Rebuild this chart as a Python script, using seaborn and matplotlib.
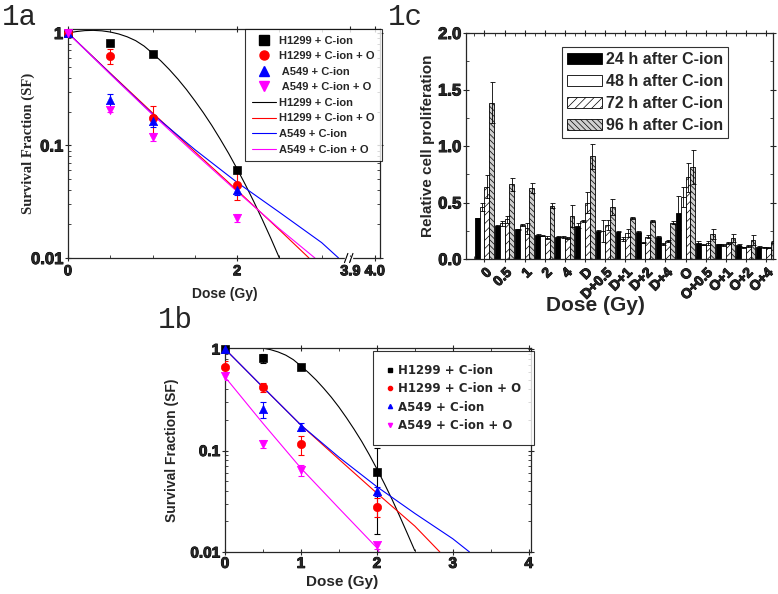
import numpy as np
import pandas as pd
import seaborn as sns
import matplotlib.pyplot as plt
import matplotlib.patheffects as pe
from matplotlib.lines import Line2D
from matplotlib.patches import Patch
from matplotlib.ticker import FixedLocator, NullFormatter, LogLocator

# ---------------- data ----------------
doses = [0, 0.5, 1, 2]
labels = ["H1299 + C-ion", "H1299 + C-ion + O", "A549 + C-ion", "A549 + C-ion + O"]
colors = ["black", "red", "blue", "magenta"]
markers = ["s", "o", "^", "v"]

# panel 1a points
sf_a_h1299 = [1.0, 0.81, 0.65, 0.061]
sf_a_h1299_o = [1.0, 0.625, 0.175, 0.045]
sf_a_a549 = [1.0, 0.254, 0.165, 0.040]
sf_a_a549_o = [1.0, 0.207, 0.12, 0.0227]
err_a_h1299 = [0, 0.05, 0.03, 0.004]
err_a_h1299_o = [0, 0.1, 0.05, 0.012]
err_a_a549 = [0, 0.035, 0.02, 0.004]
err_a_a549_o = [0, 0.01, 0.01, 0.002]

# panel 1a fitted curves
fit_a_x_h1299 = [0, 0.1, 0.2, 0.3, 0.4, 0.5, 0.6, 0.7, 0.8, 0.9, 1.0, 1.1, 1.2, 1.3,
                 1.4, 1.5, 1.6, 1.7, 1.8, 1.9, 2.0, 2.1, 2.2, 2.3, 2.4, 2.5]
fit_a_y_h1299 = [1.0, 1.03, 1.05, 1.055, 1.045, 1.02, 0.98, 0.925, 0.855, 0.765, 0.66,
                 0.563, 0.472, 0.389, 0.315, 0.25, 0.196, 0.151, 0.114, 0.085, 0.062,
                 0.0445, 0.0314, 0.0218, 0.0149, 0.0100]
fit_a_x_h1299_o = [0, 0.5, 1.0, 1.5, 2.0, 2.5, 2.85]
fit_a_y_h1299_o = [1.0, 0.44, 0.195, 0.088, 0.040, 0.0178, 0.0100]
fit_a_x_a549 = [0, 0.5, 1.0, 1.5, 2.0, 2.5, 3.0, 3.2]
fit_a_y_a549 = [1.0, 0.435, 0.19, 0.092, 0.047, 0.0255, 0.0137, 0.0100]
fit_a_x_a549_o = [0, 0.5, 1.0, 1.5, 2.0, 2.5, 2.92]
fit_a_y_a549_o = [1.0, 0.43, 0.188, 0.085, 0.039, 0.0182, 0.0100]

# panel 1b points
sf_b_h1299 = [1.0, 0.81, 0.66, 0.061]
sf_b_h1299_o = [0.67, 0.42, 0.115, 0.028]
sf_b_a549 = [1.0, 0.254, 0.171, 0.0397]
sf_b_a549_o = [0.545, 0.117, 0.064, 0.0116]
err_b_h1299 = [0, 0.08, 0.03, 0.046]
err_b_h1299_o = [0.1, 0.04, 0.025, 0.006]
err_b_a549 = [0, 0.045, 0.015, 0.004]
err_b_a549_o = [0.05, 0.01, 0.008, 0.001]

# panel 1b fitted curves
fit_b_x_h1299 = [0, 0.1, 0.2, 0.3, 0.4, 0.5, 0.6, 0.7, 0.8, 0.9, 1.0, 1.1, 1.2, 1.3,
                 1.4, 1.5, 1.6, 1.7, 1.8, 1.9, 2.0, 2.1, 2.2, 2.3, 2.4, 2.5]
fit_b_y_h1299 = [1.0, 1.03, 1.05, 1.055, 1.045, 1.02, 0.985, 0.935, 0.87, 0.785, 0.68,
                 0.585, 0.495, 0.41, 0.335, 0.268, 0.21, 0.162, 0.123, 0.091, 0.066,
                 0.047, 0.033, 0.0226, 0.0153, 0.0103]
fit_b_x_h1299_o = [0, 0.5, 1.0, 1.5, 2.0, 2.5, 2.83]
fit_b_y_h1299_o = [1.0, 0.42, 0.178, 0.082, 0.038, 0.018, 0.0100]
fit_b_x_a549 = [0, 0.5, 1.0, 1.5, 2.0, 2.5, 3.0, 3.22]
fit_b_y_a549 = [1.0, 0.42, 0.178, 0.086, 0.044, 0.024, 0.0135, 0.0100]
fit_b_x_a549_o = [0, 0.5, 1.0, 1.5, 2.0, 2.03]
fit_b_y_a549_o = [0.53, 0.185, 0.067, 0.027, 0.011, 0.0100]

# panel 1c bars
doses_c = ["0", "0.5", "1", "2", "4", "D", "D+0.5", "D+1", "D+2", "D+4",
           "O", "O+0.5", "O+1", "O+2", "O+4"]
times_c = ["24 h after C-ion", "48 h after C-ion", "72 h after C-ion", "96 h after C-ion"]
prolif_24h = [0.36, 0.295, 0.263, 0.212, 0.198, 0.295, 0.248, 0.242, 0.236, 0.195,
              0.41, 0.145, 0.13, 0.124, 0.109]
prolif_48h = [0.457, 0.316, 0.30, 0.206, 0.195, 0.339, 0.248, 0.177, 0.145, 0.133,
              0.546, 0.127, 0.124, 0.103, 0.103]
prolif_72h = [0.64, 0.35, 0.27, 0.19, 0.183, 0.50, 0.30, 0.227, 0.198, 0.159,
              0.723, 0.142, 0.142, 0.118, 0.10]
prolif_96h = [1.383, 0.66, 0.625, 0.472, 0.38, 0.91, 0.463, 0.366, 0.336, 0.322,
              0.817, 0.218, 0.183, 0.168, 0.153]
err_24h = [0.005, 0.005, 0.005, 0.005, 0.005, 0.02, 0.005, 0.005, 0.01, 0.005,
           0.15, 0.01, 0.005, 0.005, 0.01]
err_48h = [0.035, 0.02, 0.01, 0.005, 0.005, 0.01, 0.1, 0.02, 0.005, 0.005,
           0.09, 0.005, 0.01, 0.005, 0.005]
err_72h = [0.1, 0.03, 0.045, 0.01, 0.01, 0.09, 0.045, 0.035, 0.01, 0.01,
           0.13, 0.02, 0.01, 0.01, 0.005]
err_96h = [0.18, 0.06, 0.045, 0.025, 0.095, 0.11, 0.07, 0.01, 0.005, 0.012,
           0.15, 0.045, 0.035, 0.045, 0.01]

# ---------------- style ----------------
sns.set_style("ticks")
plt.rcParams['font.family'] = ['Liberation Sans', 'DejaVu Sans']
plt.rcParams['font.weight'] = 'bold'
plt.rcParams['axes.linewidth'] = 0.9
plt.rcParams['hatch.linewidth'] = 0.5

W, H = 778, 594
fig = plt.figure(figsize=(W / 100, H / 100), dpi=100)
heavy = [pe.withStroke(linewidth=0.7, foreground='black')]


def px_axes(l, t, r, b):
    return fig.add_axes([l / W, 1 - b / H, (r - l) / W, (b - t) / H])


ax_a = px_axes(68, 29, 380, 258)
ax_b = px_axes(225, 348, 531, 552)
ax_c = px_axes(466, 33, 773, 259)


def draw_survival(ax, pts, errs, fits, msize):
    for (fx, fy), c in zip(fits, colors):
        sns.lineplot(x=fx, y=fy, color=c, lw=0.8, ax=ax, sort=False,
                     estimator=None, legend=False)
    for vals, err, c, m in zip(pts, errs, colors, markers):
        ax.errorbar(doses, vals, yerr=err, fmt='none', ecolor=c, elinewidth=0.8,
                    capsize=2, capthick=0.8, zorder=3)
        sns.scatterplot(x=doses, y=vals, marker=m, color=c, edgecolor=c, s=msize,
                        ax=ax, zorder=4, legend=False, clip_on=False)
    ax.set_yscale('log')
    ax.yaxis.set_major_locator(FixedLocator([0.01, 0.1, 1]))
    ax.set_yticklabels(["0.01", "0.1", "1"])
    ax.yaxis.set_minor_locator(LogLocator(base=10, subs=np.arange(2, 10)))
    ax.yaxis.set_minor_formatter(NullFormatter())
    ax.tick_params(which='both', top=True, right=True)
    ax.tick_params(which='major', direction='inout', length=5, width=0.8)
    ax.tick_params(which='minor', direction='in', length=2.5, width=0.6)


# ---------------- panel 1a ----------------
pts_a = [sf_a_h1299, sf_a_h1299_o, sf_a_a549, sf_a_a549_o]
errs_a = [err_a_h1299, err_a_h1299_o, err_a_a549, err_a_a549_o]
fits_a = [(fit_a_x_h1299, fit_a_y_h1299), (fit_a_x_h1299_o, fit_a_y_h1299_o),
          (fit_a_x_a549, fit_a_y_a549), (fit_a_x_a549_o, fit_a_y_a549_o)]
draw_survival(ax_a, pts_a, errs_a, fits_a, 36)
ax_a.set_xlim(0, 3.69)
ax_a.set_ylim(0.01, 1.085)
# broken axis: 3.9 and 4.0 sit after the break
ax_a.xaxis.set_major_locator(FixedLocator([0, 2, 3.34, 3.63]))
ax_a.set_xticklabels(["0", "2", "3.9", "4.0"])
ax_a.xaxis.set_minor_locator(FixedLocator([0.5, 1, 1.5, 2.5, 3.0]))
ax_a.tick_params(axis='x', which='major', labelsize=10.5, pad=2)
ax_a.tick_params(axis='y', which='major', labelsize=12, pad=1)
tr = ax_a.get_xaxis_transform()
ax_a.plot([3.29, 3.35], [0.0, 0.0], color='white', lw=2.5, transform=tr,
          clip_on=False, zorder=5)
for x0 in [3.27, 3.33]:
    ax_a.plot([x0, x0 + 0.04], [-0.02, 0.02], color='black', lw=0.8,
              transform=tr, clip_on=False, zorder=6)
ax_a.set_xlabel("Dose (Gy)", fontsize=10, fontweight='bold')
ax_a.xaxis.set_label_coords((225 - 68) / 312, -0.125)
ax_a.set_ylabel("Survival Fraction (SF)", fontsize=10.5, fontweight='bold',
                family=['Liberation Serif'])
ax_a.yaxis.set_label_coords(-0.105, 0.5)

h_a = []
for c, m, lab in zip(colors, markers, labels):
    h_a.append(Line2D([], [], ls='none', marker=m, color=c, markersize=6.5,
                      label=(" " + lab) if lab.startswith("A") else lab))
for c, lab in zip(colors, labels):
    h_a.append(Line2D([], [], color=c, lw=0.8, label=lab))
leg_a = ax_a.legend(handles=h_a, loc='upper left', bbox_to_anchor=(245 / W, 1 - 29 / H),
                    bbox_transform=fig.transFigure, frameon=True, fancybox=False,
                    borderaxespad=0, borderpad=0.6, labelspacing=0.5, handlelength=2.2,
                    handletextpad=0.3, prop={'weight': 'bold', 'size': 8})
leg_a.get_frame().set_edgecolor('black')
leg_a.get_frame().set_linewidth(0.8)

# ---------------- panel 1b ----------------
pts_b = [sf_b_h1299, sf_b_h1299_o, sf_b_a549, sf_b_a549_o]
errs_b = [err_b_h1299, err_b_h1299_o, err_b_a549, err_b_a549_o]
fits_b = [(fit_b_x_h1299, fit_b_y_h1299), (fit_b_x_h1299_o, fit_b_y_h1299_o),
          (fit_b_x_a549, fit_b_y_a549), (fit_b_x_a549_o, fit_b_y_a549_o)]
draw_survival(ax_b, pts_b, errs_b, fits_b, 36)
ax_b.set_xlim(0, 4.03)
ax_b.set_ylim(0.01, 1.023)
ax_b.xaxis.set_major_locator(FixedLocator([0, 1, 2, 3, 4]))
ax_b.xaxis.set_minor_locator(FixedLocator([0.5, 1.5, 2.5, 3.5]))
ax_b.tick_params(which='major', labelsize=11, pad=1)
ax_b.set_xlabel("Dose (Gy)", fontsize=11, fontweight='bold')
ax_b.xaxis.set_label_coords((342 - 225) / 306, -0.115)
ax_b.set_ylabel("Survival Fraction (SF)", fontsize=10, fontweight='bold')
ax_b.yaxis.set_label_coords(-0.15, 0.5)

h_b = [Line2D([], [], ls='none', marker=m, color=c, markersize=3, label=lab)
       for c, m, lab in zip(colors, markers, labels)]
leg_b = ax_b.legend(handles=h_b, loc='upper left', bbox_to_anchor=(373 / W, 1 - 351 / H),
                    bbox_transform=fig.transFigure, frameon=True, fancybox=False,
                    borderaxespad=0, borderpad=1.1, labelspacing=0.45, handlelength=0.6,
                    handletextpad=0.4,
                    prop={'family': 'DejaVu Sans', 'weight': 'bold', 'size': 8.5})
leg_b.get_frame().set_edgecolor('black')
leg_b.get_frame().set_linewidth(0.8)

# ---------------- panel 1c ----------------
df_c = pd.DataFrame({
    "dose": doses_c * 4,
    "time": sum([[t] * len(doses_c) for t in times_c], []),
    "value": prolif_24h + prolif_48h + prolif_72h + prolif_96h,
})
errs_c = [err_24h, err_48h, err_72h, err_96h]
bar_colors = ["black", "white", "white", "#cfcfcf"]
hatches = [None, None, "////", "\\\\\\\\\\\\"]
sns.barplot(data=df_c, x="dose", y="value", hue="time", ax=ax_c, palette=bar_colors,
            width=0.95, edgecolor="black", linewidth=0.6, errorbar=None, legend=False,
            saturation=1)
for cont, hat, err in zip(ax_c.containers, hatches, errs_c):
    xs, ys = [], []
    for bar in cont:
        if hat:
            bar.set_hatch(hat)
        xs.append(bar.get_x() + bar.get_width() / 2)
        ys.append(bar.get_height())
    ax_c.errorbar(xs, ys, yerr=err, fmt='none', ecolor='black', elinewidth=0.6,
                  capsize=1.8, capthick=0.6, zorder=3)
ax_c.set_xlim(-0.92, 14.35)
ax_c.set_ylim(0, 2.0)
ax_c.set_yticks([0.0, 0.5, 1.0, 1.5, 2.0])
ax_c.set_yticklabels(["0.0", "0.5", "1.0", "1.5", "2.0"])
ax_c.yaxis.set_minor_locator(FixedLocator([0.25, 0.75, 1.25, 1.75]))
ax_c.xaxis.set_minor_locator(FixedLocator(np.arange(-0.5, 14.6, 1)))
ax_c.tick_params(which='both', top=True, right=True)
ax_c.tick_params(which='major', direction='inout', length=5, width=0.8)
ax_c.tick_params(which='minor', direction='in', length=2.5, width=0.6)
ax_c.tick_params(axis='y', labelsize=12, pad=1)
ax_c.tick_params(axis='x', labelsize=10, pad=2)
for lab in ax_c.get_xticklabels():
    lab.set_rotation(45)
    lab.set_ha('right')
    lab.set_rotation_mode('anchor')
ax_c.set_xlabel("Dose (Gy)", fontsize=15, fontweight='bold')
ax_c.xaxis.set_label_coords(0.42, -0.165)
ax_c.set_ylabel("Relative cell proliferation", fontsize=11, fontweight='bold')
ax_c.yaxis.set_label_coords(-0.1, 0.5)

h_c = [Patch(facecolor=fc, edgecolor='black', hatch=hat, lw=0.6, label=t)
       for fc, hat, t in zip(bar_colors, hatches, times_c)]
leg_c = ax_c.legend(handles=h_c, loc='upper left', bbox_to_anchor=(562 / W, 1 - 47 / H),
                    bbox_transform=fig.transFigure, frameon=True, fancybox=False,
                    borderaxespad=0, borderpad=0.3, labelspacing=0.45, handlelength=2.2,
                    handleheight=0.7, handletextpad=0.25,
                    prop={'weight': 'bold', 'size': 11.5})
leg_c.get_frame().set_edgecolor('black')
leg_c.get_frame().set_linewidth(0.8)

# heavier tick labels, like the original
for ax in [ax_a, ax_b, ax_c]:
    for lab in ax.get_xticklabels() + ax.get_yticklabels():
        lab.set_path_effects(heavy)

# ---------------- panel labels ----------------
for txt, x, y in [("1a", 2, 25), ("1c", 388, 25), ("1b", 158, 328)]:
    fig.text(x / W, 1 - y / H, txt, fontsize=21, family='Liberation Mono',
             fontweight='normal', ha='left', va='baseline')

fig.savefig("out.png", dpi=100)
